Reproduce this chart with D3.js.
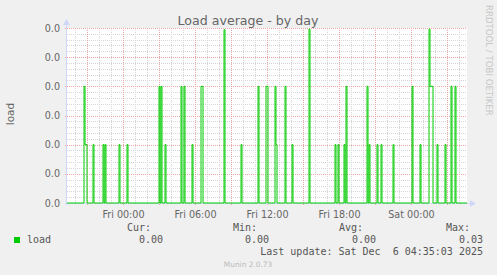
<!DOCTYPE html>
<html>
<head>
<meta charset="utf-8">
<script src="https://cdn.jsdelivr.net/npm/d3@7"></script>
<style>
  body { margin: 0; background: #f0f0f0; }
  text { font-family: "DejaVu Sans", sans-serif; }
  .mono { font-family: "DejaVu Sans Mono", monospace; }
</style>
</head>
<body>
<div id="chart-area"></div>
<script>
/*
 *    Munin load average - by day
 */

// spikes of the load series (every other 5 min sample is 0)
var loadTimes = [
	"2025-12-04 20:45", "2025-12-04 20:50", "2025-12-04 20:55", "2025-12-04 21:30",
	"2025-12-04 22:20", "2025-12-04 22:30", "2025-12-04 23:40", "2025-12-05 00:20",
	"2025-12-05 03:00", "2025-12-05 03:10", "2025-12-05 03:30", "2025-12-05 04:50",
	"2025-12-05 05:05", "2025-12-05 05:45", "2025-12-05 06:30", "2025-12-05 06:35",
	"2025-12-05 08:25", "2025-12-05 09:50", "2025-12-05 11:15", "2025-12-05 11:55",
	"2025-12-05 12:00", "2025-12-05 12:40", "2025-12-05 12:45", "2025-12-05 13:30",
	"2025-12-05 14:05", "2025-12-05 15:30", "2025-12-05 17:40", "2025-12-05 17:55",
	"2025-12-05 18:25", "2025-12-05 18:35", "2025-12-05 20:20", "2025-12-05 20:30",
	"2025-12-05 21:10", "2025-12-05 21:30", "2025-12-05 22:30", "2025-12-06 00:05",
	"2025-12-06 00:45", "2025-12-06 01:30", "2025-12-06 01:35", "2025-12-06 01:40",
	"2025-12-06 01:45", "2025-12-06 02:10", "2025-12-06 02:50", "2025-12-06 03:20",
	"2025-12-06 03:40"
];
var loadValues = [
	0.02, 0.01, 0.01, 0.01,
	0.01, 0.01, 0.01, 0.01,
	0.02, 0.02, 0.01, 0.02,
	0.02, 0.01, 0.02, 0.02,
	0.0297, 0.01, 0.02, 0.02,
	0.02, 0.02, 0.01, 0.02,
	0.01, 0.0298, 0.01, 0.01,
	0.01, 0.02, 0.02, 0.01,
	0.01, 0.01, 0.01, 0.02,
	0.01, 0.0298, 0.02, 0.02,
	0.02, 0.01, 0.01, 0.02,
	0.02
];

var timeRange = ["2025-12-04 19:20", "2025-12-06 04:40"];
var xTickTimes = ["2025-12-05 00:00", "2025-12-05 06:00", "2025-12-05 12:00", "2025-12-05 18:00", "2025-12-06 00:00"];
var xTickLabels = ["Fri 00:00", "Fri 06:00", "Fri 12:00", "Fri 18:00", "Sat 00:00"];
var yTicks = [0, 0.005, 0.01, 0.015, 0.02, 0.025, 0.03];

var legendHeads = ["Cur:", "Min:", "Avg:", "Max:"];
var legendValues = ["0.00", "0.00", "0.00", "0.03"];

var W = 497, H = 275;
var margin = { left: 67, top: 28, right: 30, bottom: 72 };
var width = 400, height = 175;

var parse = d3.timeParse("%Y-%m-%d %H:%M");

var svg = d3.select("#chart-area")
	.append("svg")
	.attr("width", W)
	.attr("height", H)
	.style("display", "block");

svg.append("rect").attr("width", W).attr("height", H).attr("fill", "#f0f0f0");

var g = svg.append("g")
	.attr("transform", "translate(" + margin.left + ", " + margin.top + ")");

g.append("rect").attr("width", width).attr("height", height).attr("fill", "#fff");

var x = d3.scaleTime()
	.domain(timeRange.map(parse))
	.range([0, width]);
var y = d3.scaleLinear()
	.domain([0, 0.03])
	.range([height, 0]);

// minor grid
var hours = d3.timeHour.every(1).range(x.domain()[0], x.domain()[1]);
g.selectAll(".vminor").data(hours).enter().append("line")
	.attr("x1", d => Math.round(x(d)) + 0.5).attr("x2", d => Math.round(x(d)) + 0.5)
	.attr("y1", 0).attr("y2", height)
	.attr("stroke", "#d6d6d6").attr("stroke-dasharray", "1,1");
var yMinor = d3.range(0, 31).map(d => d / 1000);
g.selectAll(".hminor").data(yMinor).enter().append("line")
	.attr("y1", d => Math.round(y(d)) + 0.5).attr("y2", d => Math.round(y(d)) + 0.5)
	.attr("x1", 0).attr("x2", width)
	.attr("stroke", "#d6d6d6").attr("stroke-dasharray", "1,1");

// major grid
var majors = d3.timeHour.every(3).range(x.domain()[0], x.domain()[1]);
g.selectAll(".vmajor").data(majors).enter().append("line")
	.attr("x1", d => Math.round(x(d)) + 0.5).attr("x2", d => Math.round(x(d)) + 0.5)
	.attr("y1", 0).attr("y2", height + 2)
	.attr("stroke", "#eea5a5").attr("stroke-dasharray", "1,1");
g.selectAll(".hmajor").data(yTicks).enter().append("line")
	.attr("y1", d => Math.round(y(d)) + 0.5).attr("y2", d => Math.round(y(d)) + 0.5)
	.attr("x1", -2).attr("x2", width)
	.attr("stroke", "#eea5a5").attr("stroke-dasharray", "1,1");

// axes
var xAxisCall = d3.axisBottom(x)
	.tickValues(xTickTimes.map(parse))
	.tickFormat((d, i) => xTickLabels[i])
	.tickSize(0).tickPadding(8);
var xAxisGroup = g.append("g")
	.attr("transform", "translate(0, " + height + ")")
	.call(xAxisCall);
xAxisGroup.select(".domain").remove();
xAxisGroup.selectAll("text").attr("fill", "#666").attr("font-size", "9.6px");

var yAxisCall = d3.axisLeft(y)
	.tickValues(yTicks)
	.tickFormat(d3.format(".1f"))
	.tickSize(0).tickPadding(7);
var yAxisGroup = g.append("g").call(yAxisCall);
yAxisGroup.select(".domain").remove();
yAxisGroup.selectAll("text").attr("fill", "#666").attr("font-size", "9.6px");

// axis lines and arrows
var axisColor = "#cfd6f8";
g.append("line").attr("x1", -0.5).attr("x2", -0.5).attr("y1", height + 2).attr("y2", -4)
	.attr("stroke", axisColor);
g.append("line").attr("x1", -2).attr("x2", width + 4).attr("y1", height + 0.5).attr("y2", height + 0.5)
	.attr("stroke", axisColor);
g.append("path").attr("d", "M-4,-3 L3,-3 L-0.5,-9 Z").attr("fill", axisColor);
g.append("path").attr("d", "M" + (width + 3) + "," + (height - 3) + " L" + (width + 3) + "," + (height + 4) + " L" + (width + 9) + "," + (height + 0.5) + " Z").attr("fill", axisColor);

// series
var lookup = new Map(loadTimes.map((t, i) => [+parse(t), loadValues[i]]));
var samples = d3.timeMinute.every(5).range(x.domain()[0], x.domain()[1])
	.map(t => ({ time: t, load: lookup.get(+t) || 0 }));
samples.push({ time: x.domain()[1], load: 0 });

var line = d3.line()
	.x(d => x(d.time))
	.y(d => y(d.load))
	.curve(d3.curveStepAfter);

g.append("path")
	.datum(samples)
	.attr("d", line)
	.attr("fill", "none")
	.attr("stroke", "#00cc00")
	.attr("stroke-width", 1);

// titles
svg.append("text")
	.attr("x", 248).attr("y", 25)
	.attr("text-anchor", "middle")
	.attr("font-size", "12.6px")
	.attr("fill", "#666")
	.text("Load average - by day");

svg.append("text")
	.attr("transform", "translate(14, 114) rotate(-90)")
	.attr("text-anchor", "middle")
	.attr("font-size", "10.5px")
	.attr("fill", "#666")
	.text("load");

svg.append("text")
	.attr("transform", "translate(486, 5) rotate(90)")
	.attr("font-size", "8.6px")
	.attr("fill", "#c8c8c8")
	.text("RRDTOOL / TOBI OETIKER");

// legend
var headEnds = [151, 257, 363, 470];
var valueEnds = [163, 269, 376, 483];
svg.selectAll(".lhead").data(legendHeads).enter().append("text")
	.attr("class", "mono")
	.attr("x", (d, i) => headEnds[i]).attr("y", 231)
	.attr("text-anchor", "end").attr("font-size", "10px").attr("fill", "#555")
	.text(d => d);
svg.selectAll(".lval").data(legendValues).enter().append("text")
	.attr("class", "mono")
	.attr("x", (d, i) => valueEnds[i]).attr("y", 243)
	.attr("text-anchor", "end").attr("font-size", "10px").attr("fill", "#555")
	.text(d => d);
svg.append("rect").attr("x", 14).attr("y", 237).attr("width", 6).attr("height", 6)
	.attr("fill", "#00cc00");
svg.append("text").attr("class", "mono")
	.attr("x", 27).attr("y", 243).attr("font-size", "10px").attr("fill", "#555")
	.text("load");
svg.append("text").attr("class", "mono")
	.attr("x", 483).attr("y", 255).attr("text-anchor", "end")
	.attr("font-size", "10px").attr("fill", "#555")
	.attr("xml:space", "preserve").style("white-space", "pre")
	.text("Last update: Sat Dec  6 04:35:03 2025");
svg.append("text")
	.attr("x", 248).attr("y", 267).attr("text-anchor", "middle")
	.attr("font-size", "7.4px").attr("fill", "#bbb")
	.text("Munin 2.0.73");
</script>
</body>
</html>
